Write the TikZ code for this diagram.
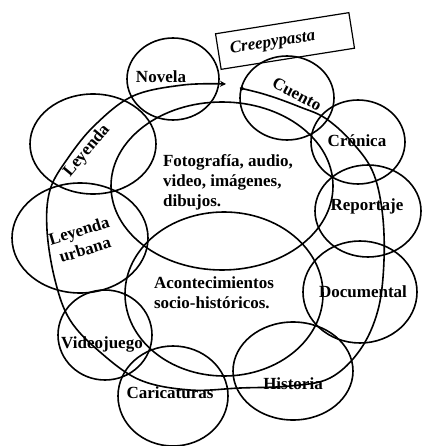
\documentclass[tikz,border=0pt]{standalone}
\usepackage{fontspec}
\setmainfont{Liberation Serif}
\usetikzlibrary{shapes.geometric,arrows.meta}

\begin{document}
\begin{tikzpicture}[
    x=1pt, y=-1pt,
    ring/.style={ellipse, draw, line width=1.6pt, inner sep=0pt},
    lbl/.style={font=\fontsize{17}{20}\selectfont\bfseries, inner sep=0pt},
    loop/.style={line width=1.6pt, {Circle[length=4pt]}-{Stealth[length=6pt,width=6pt]}}
]
\useasboundingbox (0,0) rectangle (425,446);

% Outer ring of circles
\node[ring, minimum width=92pt, minimum height=82pt] (novela) at (173,79) {};
\node[ring, minimum width=94pt, minimum height=84pt] (cuento) at (287,98) {};
\node[ring, minimum width=94pt, minimum height=84pt] (cronica) at (358,142) {};
\node[ring, minimum width=106pt, minimum height=92pt] (reportaje) at (368,211) {};
\node[ring, minimum width=114pt, minimum height=102pt] (documental) at (360,292) {};
\node[ring, minimum width=120pt, minimum height=98pt] (historia) at (293,371) {};
\node[ring, minimum width=110pt, minimum height=100pt] (caricaturas) at (173,396) {};
\node[ring, minimum width=94pt, minimum height=90pt] (videojuego) at (105,335) {};
\node[ring, minimum width=136pt, minimum height=110pt] (leyurbana) at (80,238) {};
\node[ring, minimum width=126pt, minimum height=100pt] (leyenda) at (93,144) {};

% Inner ellipses
\node[ring, minimum width=222pt, minimum height=168pt] (medios) at (222,186) {};
\node[ring, minimum width=198pt, minimum height=164pt] (hechos) at (224,294) {};

% Big loop round the ring
\draw[loop] plot[smooth, tension=0.6] coordinates {
    (240,88) (270,96) (300,107) (325,118) (350,140) (372,170)
    (382,210) (384,260) (378,310) (360,350) (330,378) (290,386)
    (240,388) (190,390) (140,380) (100,352) (70,320) (55,280)
    (47,230) (50,190) (68,158) (95,125) (133,96) (183,85) (226,84)};

% Creepypasta box
\node[draw, line width=1.2pt, rotate=9, text width=111pt, inner xsep=12pt,
      minimum height=36pt, align=left,
      font=\fontsize{17}{20}\selectfont\bfseries\itshape] (creepy) at (285,41) {Creepypasta};

% Labels
\node[lbl] (t-novela) at (161,77) {Novela};
\node[lbl, rotate=-28] (t-cuento) at (297,94) {Cuento};
\node[lbl] (t-cronica) at (357,141) {Crónica};
\node[lbl] (t-reportaje) at (367,206) {Reportaje};
\node[lbl] (t-documental) at (363,292) {Documental};
\node[lbl] (t-historia) at (293,384) {Historia};
\node[lbl] (t-caricaturas) at (170,393) {Caricaturas};
\node[lbl] (t-videojuego) at (102,344) {Videojuego};
\node[lbl, rotate=17, align=center] (t-leyurbana) at (82,240) {Leyenda\\urbana};
\node[lbl, rotate=50] (t-leyenda) at (87,151) {Leyenda};
\node[lbl, align=left] (t-medios) at (228,182) {Fotografía, audio,\\video, imágenes,\\dibujos.};
\node[lbl, align=left] (t-hechos) at (214,293) {Acontecimientos\\socio-históricos.};

\end{tikzpicture}
\end{document}
